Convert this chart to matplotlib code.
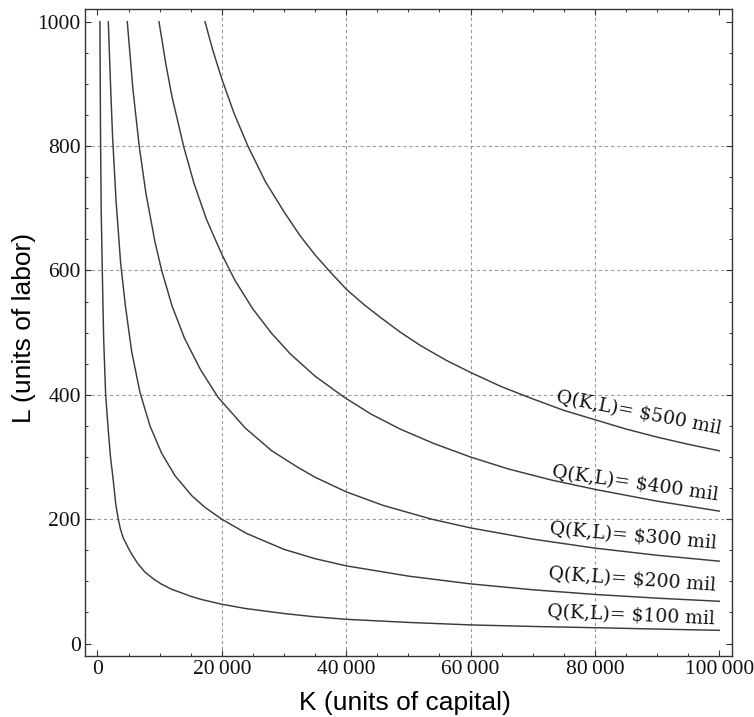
import matplotlib
matplotlib.use("Agg")
import matplotlib.pyplot as plt
from matplotlib.ticker import MultipleLocator, FixedLocator, FuncFormatter

# ---- data (K = capital, L = labor) ----
K100 = [400, 450, 510, 600, 780, 1000, 1320, 1740, 2100, 2540, 2950, 3350, 3700,
        4150, 5000, 5500, 6500, 7640, 9000, 10330, 12000, 13540, 15000, 16760,
        20000, 23730, 30000, 35000, 40000, 50000, 60000, 70000, 80000, 90000,
        100000]
L100 = [1000, 900, 800, 700, 600, 490, 400, 343, 300, 263, 224, 200, 184,
        170, 153, 144, 128.5, 115, 104, 95.4, 87, 81.5, 76, 70.8,
        63.3, 56.5, 48.3, 43, 39, 34, 30, 27.5, 25.5, 23.3,
        21.3]

K200 = [1750, 2100, 2440, 3000, 3730, 4500, 5500, 6840, 8450, 10330, 12470,
        15150, 17300, 20000, 24000, 30000, 35000, 40000, 50000, 60000, 70000,
        80000, 90000, 100000]
L200 = [1000, 900, 814, 711, 612, 543, 470, 404, 350, 306, 270,
        238, 219, 200, 177, 151.5, 136.5, 125, 108.5, 96, 86.5,
        79, 73, 68]

K300 = [4800, 5700, 6730, 7800, 9250, 10330, 12000, 14000, 16600, 19400, 23730,
        28030, 32300, 35000, 40000, 46000, 53770, 60000, 70000, 80000, 90000,
        100000]
L300 = [1000, 892, 799, 724, 646, 600, 543, 491, 440, 396, 347,
        310, 283, 267.5, 244, 222, 200, 186, 168, 153.5, 142,
        132.5]

K400 = [9900, 11000, 12000, 13900, 15500, 17500, 20000, 22120, 25000, 28000,
        31000, 35000, 39700, 44000, 48670, 54030, 60000, 66000, 73000, 80000,
        90000, 100000]
L400 = [1000, 932, 879, 798, 741, 683, 626, 584, 538, 499,
        466, 430, 396, 369, 345, 322, 300, 281, 263, 248,
        229, 213]

K500 = [17300, 18500, 20000, 22000, 24200, 27000, 29900, 32580, 35000, 37400,
        40000, 43000, 45450, 48670, 52000, 56000, 60000, 65000, 69600, 75000,
        80000, 85000, 90000, 95000, 100000]
L500 = [1000, 956, 908, 852, 800, 743, 696, 656, 625, 598,
        570, 544, 525, 501, 479, 456, 436, 413, 395, 375,
        360, 345, 332, 320.5, 310]

curves = [(K100, L100), (K200, L200), (K300, L300), (K400, L400), (K500, L500)]
labels = ["Q(K,L)= $100 mil", "Q(K,L)= $200 mil", "Q(K,L)= $300 mil",
          "Q(K,L)= $400 mil", "Q(K,L)= $500 mil"]
label_K = [85800, 85950, 86200, 86500, 87100]
label_L = [45.5, 103, 171.6, 257.5, 370.7]
label_rot = [-2.5, -4, -5, -8, -11]

x_ticks = [0, 20000, 40000, 60000, 80000, 100000]
y_ticks = [0, 200, 400, 600, 800, 1000]
grid_x = [20000, 40000, 60000, 80000]
grid_y = [200, 400, 600, 800]

# ---- figure ----
W, H = 754, 717
fig = plt.figure(figsize=(W / 100, H / 100), dpi=100)
ax = fig.add_axes([85 / W, 1 - 656 / H, (731.7 - 85) / W, (656 - 9.3) / H])

ax.set_xlim(-2000, 102000)
ax.set_ylim(-20, 1020)

for gx in grid_x:
    ax.axvline(gx, color="#9a9a9a", lw=0.8, ls=(0, (3, 2.5)), zorder=1)
for gy in grid_y:
    ax.axhline(gy, color="#9a9a9a", lw=0.8, ls=(0, (3, 2.5)), zorder=1)

for k, l in curves:
    ax.plot(k, l, color="#3c3c3c", lw=1.05, zorder=3,
            solid_joinstyle="round")

for txt, kx, ly, rot in zip(labels, label_K, label_L, label_rot):
    ax.text(kx, ly, txt, rotation=rot, ha="center", va="center",
            family=["DejaVu Serif"], fontsize=13.5, color="#111111",
            parse_math=False, rotation_mode="anchor", zorder=4)

# ticks
ax.xaxis.set_major_locator(FixedLocator(x_ticks))
ax.yaxis.set_major_locator(FixedLocator(y_ticks))
ax.xaxis.set_minor_locator(MultipleLocator(5000))
ax.yaxis.set_minor_locator(MultipleLocator(50))


def kfmt(v, pos):
    v = int(round(v))
    if v >= 10000:
        return f"{v:,}".replace(",", "\u2009")
    return str(v)


ax.xaxis.set_major_formatter(FuncFormatter(kfmt))
ax.tick_params(which="both", direction="in", top=True, right=True,
               color="#333333")
ax.tick_params(which="major", length=4.5, width=0.8)
ax.tick_params(which="minor", length=2.5, width=0.7)
ax.tick_params(axis="x", which="major", pad=3)
ax.tick_params(axis="y", which="major", pad=3)
for lab in ax.get_xticklabels() + ax.get_yticklabels():
    lab.set_family(["Liberation Serif", "DejaVu Serif"])
    lab.set_fontsize(15.5)
    lab.set_color("#111111")

for sp in ax.spines.values():
    sp.set_color("#333333")
    sp.set_linewidth(1.0)

fig.text(405 / W, 1 - 703 / H, "K (units of capital)", ha="center",
         va="center", family=["Liberation Sans", "DejaVu Sans"], fontsize=19)
fig.text(24 / W, 1 - 328 / H, "L (units of labor)", ha="center",
         va="center", rotation=90, family=["Liberation Sans", "DejaVu Sans"],
         fontsize=19)

fig.savefig("out.png", dpi=100)
